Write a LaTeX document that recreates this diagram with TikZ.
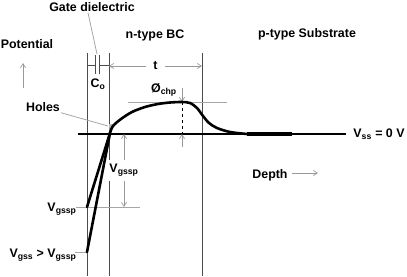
\documentclass[tikz,border=0pt]{standalone}
\usepackage{fontspec}
\setmainfont{Liberation Sans}
\usetikzlibrary{arrows.meta}
\tikzset{
  wall/.style={black!70, line width=0.8pt},
  guide/.style={gray!70, line width=0.8pt},
  dim/.style={gray!80, line width=0.7pt, {Straight Barb[length=4pt,width=5pt]}-{Straight Barb[length=4pt,width=5pt]}},
  pointer/.style={gray!80, line width=0.7pt, -{Straight Barb[length=4pt,width=5pt]}},
  band/.style={line width=2.6pt, line cap=round, line join=round},
  lbl/.style={inner sep=1pt, text=black},
}

\begin{document}
\begin{tikzpicture}[x=1pt,y=-1pt,font=\fontsize{12.4pt}{14pt}\selectfont\bfseries]
        \useasboundingbox (0,0) rectangle (407,276);

        % region walls (gate, BC edge, junction)
        \draw[wall] (87,53) -- (87,276);
        \draw[wall] (109,53) -- (109,276);
        \draw[wall] (202,53) -- (202,276);

        % gate dielectric capacitor
        \draw[wall] (87,65) -- (95,65);
        \draw[wall] (95,55) -- (95,74);
        \draw[wall] (99,55) -- (99,74);
        \draw[wall] (99,65) -- (109,65);

        % labels
        \node[lbl] (gate) at (92,7) {Gate dielectric};
        \node[lbl] (pot) at (27,44) {Potential};
        \node[lbl] (nbc) at (155,35) {n-type BC};
        \node[lbl] (psub) at (307,34) {p-type Substrate};
        \node[lbl] (co) at (98,84) {C\textsubscript{o}};
        \node[lbl] (holes) at (43,107) {Holes};
        \node[lbl] (phi) at (164,90) {Ø\textsubscript{chp}};
        \node[lbl] (vss) at (379,134) {V\textsubscript{ss} = 0 V};
        \node[lbl] (depth) at (270,175) {Depth};
        \node[lbl] (vgl) at (62,209) {V\textsubscript{gssp}};
        \node[lbl] (vgg) at (43,255) {V\textsubscript{gss} > V\textsubscript{gssp}};

        % leaders
        \draw[guide] ([xshift=-4pt]gate.south) -- (97,54);
        \coordinate (hole) at (108,126);
        \fill[gray!55] (109,124) -- (114,124) -- (109.5,131) -- cycle;
        \draw[guide] (holes.south east) -- (hole);

        % direction arrows
        \draw[pointer] (23,88) -- (23,63);
        \draw[pointer] (292,173) -- (318,173);

        % widths
        \coordinate (tL) at (109,66);
        \coordinate (tR) at (202,66);
        \draw[dim] (tL) -- node[lbl,fill=white,inner xsep=7pt] (t) {t} (tR);

        % surface potential and depth axis
        \coordinate (base0) at (78,134);
        \coordinate (base1) at (346,134);
        \draw[line width=1.2pt] (base0) -- (base1);
        \draw[guide] (128,102) -- (227,102);
        \draw[guide] (76,207) -- (140,207);
        \draw[guide] (75,252) -- (87,252);

        % channel potential
        \coordinate (top) at (182,102);
        \coordinate (bot) at (182,134);
        \draw[dashed, line width=0.9pt] (top) -- (bot);
        \draw[pointer] (182,88) -- (top);
        \draw[pointer] (182,147) -- (bot);

        \coordinate (vA) at (124,134);
        \coordinate (vB) at (124,207);
        \draw[dim] (vA) -- node[lbl,fill=white,inner ysep=4pt] (vgd) {V\textsubscript{gssp}} (vB);

        % potential profile
        \draw[band] (87,207) -- (110,133);
        \draw[band] (87,252) -- (110,133);
        \draw[band] plot[smooth] coordinates {(110,133) (113,126) (121,119) (132,112) (145,107) (158,104) (170,102.5) (182,102) (190,103) (197,108) (203,116) (209,123) (217,128) (230,132) (247,134)};
        \draw[line width=3.2pt] (247,134) -- (292,134);
    \end{tikzpicture}
\end{document}
